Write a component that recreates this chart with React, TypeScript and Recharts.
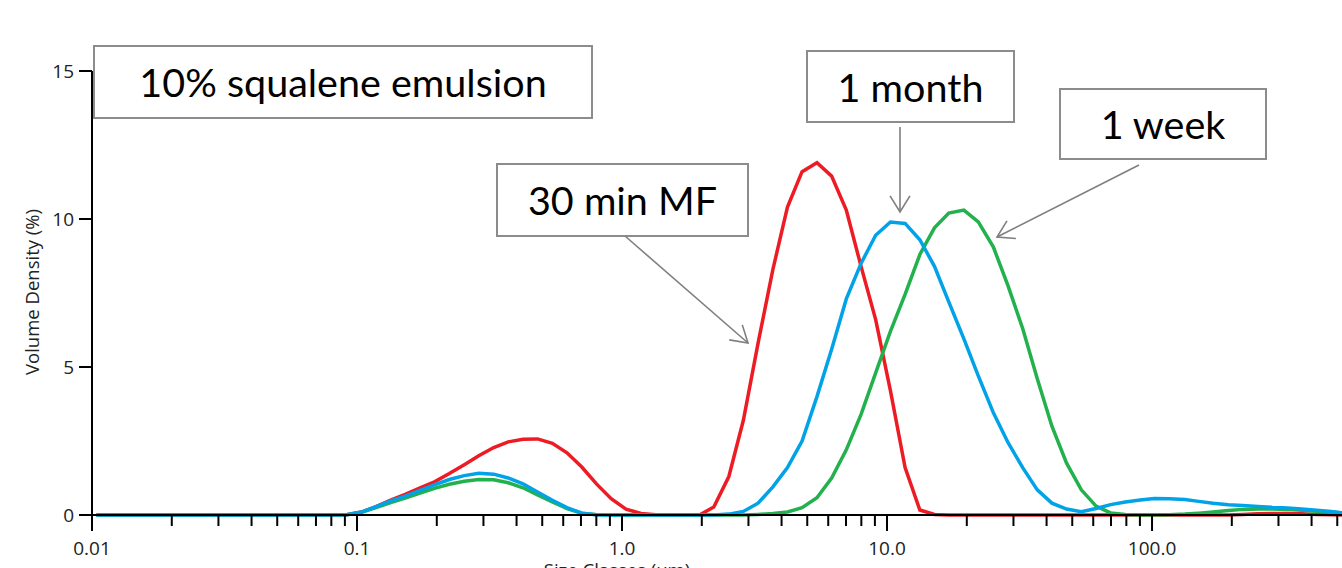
import React from 'react';
import { LineChart, Line, XAxis, YAxis } from 'recharts';

const W = 1342;
const H = 568;

// Size classes (µm), log-spaced laser-diffraction bins
const sizes = [
  0.0104, 0.0119, 0.0135, 0.0153, 0.0174, 0.0198, 0.0224, 0.0255, 0.029, 0.0329,
  0.0374, 0.0425, 0.0483, 0.0549, 0.0623, 0.0709, 0.0805, 0.0915, 0.104, 0.118,
  0.134, 0.152, 0.173, 0.196, 0.223, 0.254, 0.288, 0.328, 0.372, 0.423,
  0.48, 0.546, 0.62, 0.705, 0.801, 0.91, 1.035, 1.18, 1.34, 1.51,
  1.72, 1.96, 2.22, 2.53, 2.87, 3.26, 3.71, 4.21, 4.78, 5.44,
  6.18, 7.02, 7.98, 9.06, 10.3, 11.7, 13.3, 15.1, 17.1, 19.5,
  22.1, 25.2, 28.6, 32.5, 36.9, 41.9, 47.6, 54.1, 61.5, 69.8,
  79.3, 90.2, 102, 116, 133, 150, 170, 194, 220, 251,
  284, 324, 367, 418, 474, 539,
];

// Volume density (%) — 30 min MF (red)
const min30MF = [
  0, 0, 0, 0, 0, 0, 0, 0, 0, 0,
  0, 0, 0, 0, 0, 0, 0, 0.01, 0.1, 0.28,
  0.5, 0.7, 0.92, 1.12, 1.4, 1.7, 2.0, 2.28, 2.47, 2.56,
  2.57, 2.42, 2.1, 1.62, 1.05, 0.55, 0.2, 0.05, 0.01, 0,
  0, 0, 0.27, 1.3, 3.2, 5.8, 8.3, 10.4, 11.6, 11.9,
  11.45, 10.3, 8.4, 6.6, 4.2, 1.6, 0.17, 0.02, 0, 0,
  0, 0, 0, 0, 0, 0, 0, 0, 0, 0,
  0, 0, 0, 0, 0, 0, 0, 0, 0.02, 0.04,
  0.05, 0.05, 0.04, 0.02, 0.01, 0,
];

// Volume density (%) — 1 week (green)
const week1 = [
  0, 0, 0, 0, 0, 0, 0, 0, 0, 0,
  0, 0, 0, 0, 0, 0, 0, 0.01, 0.09, 0.25,
  0.42, 0.57, 0.74, 0.9, 1.04, 1.14, 1.2, 1.19, 1.09, 0.92,
  0.68, 0.44, 0.22, 0.06, 0.01, 0, 0, 0, 0, 0,
  0, 0, 0, 0, 0, 0.02, 0.05, 0.1, 0.25, 0.58,
  1.25, 2.2, 3.4, 4.8, 6.2, 7.45, 8.8, 9.7, 10.2, 10.3,
  9.9, 9.05, 7.75, 6.3, 4.6, 3.0, 1.75, 0.85, 0.3, 0.07,
  0.02, 0, 0, 0.01, 0.03, 0.06, 0.1, 0.15, 0.19, 0.2,
  0.2, 0.19, 0.16, 0.13, 0.09, 0.06,
];

// Volume density (%) — 1 month (blue)
const month1 = [
  0, 0, 0, 0, 0, 0, 0, 0, 0, 0,
  0, 0, 0, 0, 0, 0, 0, 0.01, 0.1, 0.28,
  0.48, 0.64, 0.83, 1.02, 1.2, 1.33, 1.41, 1.38, 1.25, 1.05,
  0.78, 0.5, 0.25, 0.06, 0.01, 0, 0, 0, 0, 0,
  0, 0, 0, 0.03, 0.12, 0.4, 0.95, 1.6, 2.5, 4.0,
  5.6, 7.3, 8.5, 9.45, 9.9, 9.85, 9.3, 8.4, 7.2, 5.95,
  4.7, 3.45, 2.45, 1.6, 0.85, 0.4, 0.2, 0.11, 0.22, 0.35,
  0.44, 0.51, 0.56, 0.55, 0.52, 0.46, 0.4, 0.35, 0.32, 0.29,
  0.26, 0.24, 0.2, 0.16, 0.12, 0.06,
];

const majorTicks = [0.01, 0.1, 1, 10, 100];
const majorLabels = ['0.01', '0.1', '1.0', '10.0', '100.0'];
const xTicks = [
  0.01, 0.02, 0.03, 0.04, 0.05, 0.06, 0.07, 0.08, 0.09,
  0.1, 0.2, 0.3, 0.4, 0.5, 0.6, 0.7, 0.8, 0.9,
  1, 2, 3, 4, 5, 6, 7, 8, 9,
  10, 20, 30, 40, 50, 60, 70, 80, 90,
  100, 200, 300, 400, 500,
];
const yTicks = [0, 5, 10, 15];

const data = sizes.map((s, i) => ({
  size: s,
  mf: min30MF[i],
  week: week1[i],
  month: month1[i],
}));

const FONT = '"Open Sans", "Noto Sans", sans-serif';
const ANNO_FONT = 'Lato, "Open Sans", sans-serif';

const XTick = (props: any) => {
  const { x, y, payload } = props;
  const idx = majorTicks.indexOf(payload.value);
  const major = idx >= 0;
  return (
    <g>
      <line x1={x} x2={x} y1={y} y2={y + (major ? 16 : 11)} stroke="#000" strokeWidth={2} />
      {major && (
        <text x={x} y={y + 40} textAnchor="middle" fontSize={19} fontFamily={FONT} fill="#222">
          {majorLabels[idx]}
        </text>
      )}
    </g>
  );
};

const YTick = (props: any) => {
  const { x, y, payload } = props;
  return (
    <g>
      <line x1={x - 13} x2={x} y1={y} y2={y} stroke="#000" strokeWidth={2} />
      <text x={x - 18} y={y + 7} textAnchor="end" fontSize={19} fontFamily={FONT} fill="#222">
        {payload.value}
      </text>
    </g>
  );
};

const Arrow = ({ x1, y1, x2, y2 }: { x1: number; y1: number; x2: number; y2: number }) => {
  const th = Math.atan2(y2 - y1, x2 - x1);
  const len = 19;
  const a = 0.55;
  const p1 = [x2 - len * Math.cos(th - a), y2 - len * Math.sin(th - a)];
  const p2 = [x2 - len * Math.cos(th + a), y2 - len * Math.sin(th + a)];
  return (
    <g stroke="#7f7f7f" strokeWidth={1.6} fill="none">
      <line x1={x1} y1={y1} x2={x2} y2={y2} />
      <polyline points={`${p1[0]},${p1[1]} ${x2},${y2} ${p2[0]},${p2[1]}`} />
    </g>
  );
};

const Box = ({ x, y, w, h, label, base }: any) => (
  <g>
    <rect x={x} y={y} width={w} height={h} fill="#fff" stroke="#8c8c8c" strokeWidth={2} />
    <text x={x + w / 2} y={base} textAnchor="middle" fontSize={39.5} fontFamily={ANNO_FONT} fill="#000">
      {label}
    </text>
  </g>
);

export default function App() {
  return (
    <div style={{ position: 'absolute', left: 0, top: 0, width: W, height: H, background: '#fff', fontFamily: FONT, overflow: 'hidden' }}>
      <LineChart width={W} height={H} data={data} margin={{ top: 71, right: 0, bottom: 0, left: 0 }}>
        <XAxis
          dataKey="size"
          type="number"
          scale="log"
          domain={[0.01, 521]}
          allowDataOverflow
          ticks={xTicks}
          interval={0}
          height={53}
          tickSize={0}
          tickMargin={0}
          tick={<XTick />}
          axisLine={{ stroke: '#000', strokeWidth: 2 }}
          tickLine={false}
        />
        <YAxis
          type="number"
          domain={[0, 15]}
          ticks={yTicks}
          interval={0}
          width={92}
          tickSize={0}
          tickMargin={0}
          tick={<YTick />}
          axisLine={{ stroke: '#000', strokeWidth: 2 }}
          tickLine={false}
        />
        <Line type="linear" dataKey="mf" stroke="#ED1C24" strokeWidth={3.5} dot={false} isAnimationActive={false} />
        <Line type="linear" dataKey="week" stroke="#22B14C" strokeWidth={3.5} dot={false} isAnimationActive={false} />
        <Line type="linear" dataKey="month" stroke="#00A2E8" strokeWidth={3.5} dot={false} isAnimationActive={false} />
      </LineChart>
      <svg width={W} height={H} style={{ position: 'absolute', left: 0, top: 0, pointerEvents: 'none' }}>
        <text transform="translate(39,292) rotate(-90)" textAnchor="middle" fontSize={18.5} fontFamily={FONT} fill="#222">
          Volume Density (%)
        </text>
        <text x={617} y={577} textAnchor="middle" fontSize={18.5} fontFamily={FONT} fill="#222">
          Size Classes (µm)
        </text>
        <Box x={94} y={46} w={498} h={72} label="10% squalene emulsion" base={97} />
        <Box x={497} y={164} w={251} h={72} label="30 min MF" base={215} />
        <Box x={807} y={51} w={207} h={71} label="1 month" base={102} />
        <Box x={1060} y={89} w={206} h={70} label="1 week" base={139} />
        <Arrow x1={625} y1={236} x2={748} y2={343} />
        <Arrow x1={900} y1={127} x2={900} y2={212} />
        <Arrow x1={1139} y1={165} x2={997} y2={237} />
      </svg>
    </div>
  );
}
